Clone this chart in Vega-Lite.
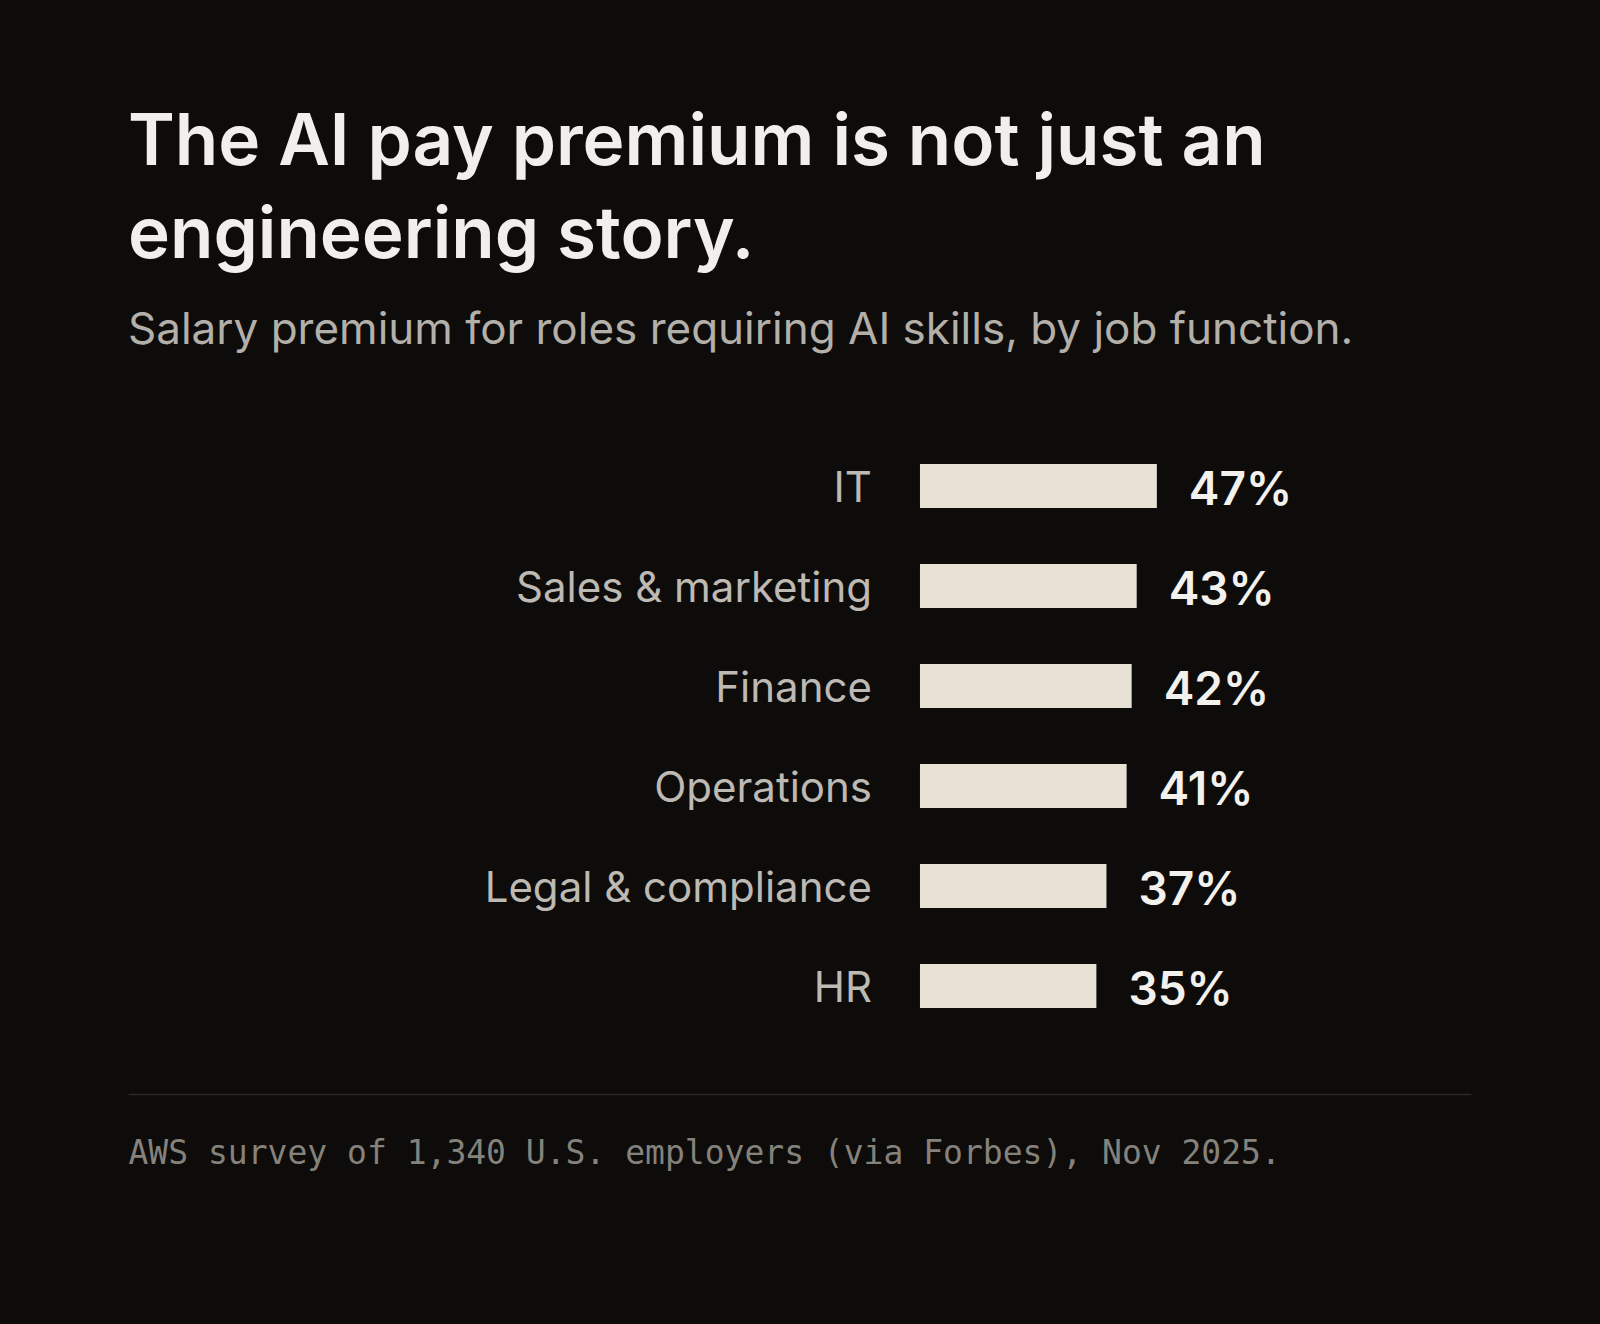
{
  "$schema": "https://vega.github.io/schema/vega-lite/v6.json",
  "width": 1343,
  "height": 600,
  "autosize": {"type": "none"},
  "padding": {"left": 128, "top": 436, "right": 129, "bottom": 288},
  "background": "#0d0c0b",
  "config": {"view": {"stroke": null}},
  "title": {
    "text": ["The AI pay premium is not just an", "engineering story."],
    "subtitle": "Salary premium for roles requiring AI skills, by job function.",
    "anchor": "start",
    "frame": "group",
    "orient": "top",
    "font": "Inter",
    "fontSize": 71,
    "fontWeight": 600,
    "color": "#f1efeb",
    "lineHeight": 93,
    "subtitleFont": "Inter",
    "subtitleFontSize": 44,
    "subtitleFontWeight": 400,
    "subtitleColor": "#b3afa9",
    "subtitleLineHeight": 50,
    "subtitlePadding": 36,
    "offset": 82
  },
  "data": {
    "values": [
      {"function": "IT", "premium": 47, "label": "47%"},
      {"function": "Sales & marketing", "premium": 43, "label": "43%"},
      {"function": "Finance", "premium": 42, "label": "42%"},
      {"function": "Operations", "premium": 41, "label": "41%"},
      {"function": "Legal & compliance", "premium": 37, "label": "37%"},
      {"function": "HR", "premium": 35, "label": "35%"}
    ]
  },
  "encoding": {
    "y": {
      "field": "function",
      "type": "nominal",
      "sort": null,
      "axis": null,
      "scale": {"paddingInner": 0.56, "paddingOuter": 0.28}
    }
  },
  "layer": [
    {
      "mark": {"type": "bar", "color": "#e8e2d6"},
      "encoding": {
        "x": {
          "field": "premium",
          "type": "quantitative",
          "scale": {"domain": [-157.14, 109.33], "nice": false, "zero": false},
          "axis": {
            "title": "AWS survey of 1,340 U.S. employers (via Forbes), Nov 2025.",
            "orient": "bottom",
            "offset": 58,
            "domain": true,
            "domainColor": "#2b2927",
            "domainWidth": 1.5,
            "ticks": false,
            "labels": false,
            "grid": false,
            "titleAnchor": "start",
            "titleAlign": "left",
            "titleFont": "DejaVu Sans Mono",
            "titleFontSize": 33,
            "titleFontWeight": 400,
            "titleColor": "#85827c",
            "titleBaseline": "alphabetic",
            "titlePadding": 69
          }
        },
        "x2": {"datum": 0}
      }
    },
    {
      "mark": {
        "type": "text",
        "align": "right",
        "baseline": "alphabetic",
        "dx": -48,
        "dy": 16,
        "font": "Inter",
        "fontSize": 42,
        "color": "#bdb9b3"
      },
      "encoding": {
        "x": {"datum": 0, "type": "quantitative"},
        "text": {"field": "function"}
      }
    },
    {
      "mark": {
        "type": "text",
        "align": "left",
        "baseline": "alphabetic",
        "dx": 32,
        "dy": 19,
        "font": "Inter",
        "fontSize": 46,
        "fontWeight": 600,
        "color": "#f3f1ed"
      },
      "encoding": {
        "x": {"field": "premium", "type": "quantitative"},
        "text": {"field": "label"}
      }
    }
  ]
}
